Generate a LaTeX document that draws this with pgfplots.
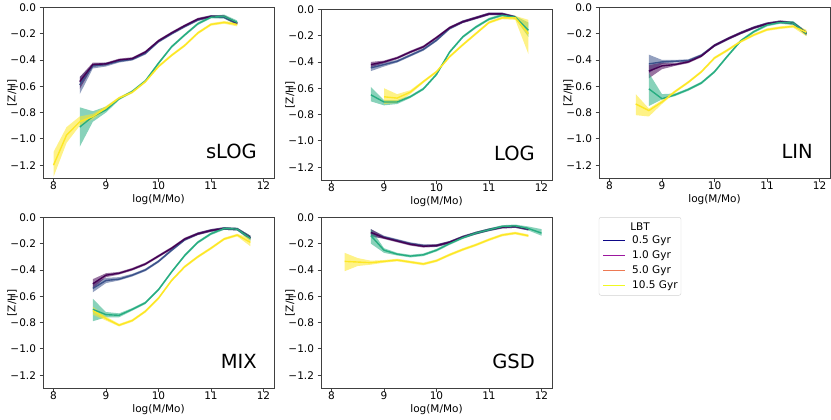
\documentclass[border=0pt]{standalone}
\usepackage{fontspec}
\setmainfont{DejaVu Sans}
\usepackage{pgfplots}
\pgfplotsset{compat=1.18}
\usepackage{pgfplotstable}
\usepgfplotslibrary{fillbetween}

\definecolor{cP}{HTML}{440154}
\definecolor{cB}{HTML}{3B528B}
\definecolor{cG}{HTML}{27AD81}
\definecolor{cY}{HTML}{FDE725}
\definecolor{lB}{HTML}{0D0887}
\definecolor{lP}{HTML}{9C179E}
\definecolor{lO}{HTML}{ED7953}
\definecolor{lY}{HTML}{F0F921}

% ---------------- sLOG ----------------
\pgfplotstableread{
x y lo hi
8.5 -0.59 -0.66 -0.53
8.75 -0.445 -0.465 -0.43
9 -0.435 -0.45 -0.42
9.25 -0.41 -0.42 -0.40
9.5 -0.395 -0.405 -0.385
9.75 -0.35 -0.36 -0.34
10 -0.26 -0.27 -0.25
10.25 -0.20 -0.21 -0.19
10.5 -0.145 -0.155 -0.135
10.75 -0.095 -0.105 -0.085
11 -0.07 -0.08 -0.06
11.25 -0.075 -0.085 -0.065
11.5 -0.125 -0.135 -0.115
}\tsB
\pgfplotstableread{
x y lo hi
8.5 -0.565 -0.62 -0.53
8.75 -0.435 -0.45 -0.42
9 -0.43 -0.44 -0.42
9.25 -0.40 -0.41 -0.39
9.5 -0.39 -0.40 -0.38
9.75 -0.34 -0.35 -0.33
10 -0.255 -0.265 -0.245
10.25 -0.195 -0.205 -0.185
10.5 -0.14 -0.15 -0.13
10.75 -0.09 -0.10 -0.08
11 -0.07 -0.08 -0.06
11.25 -0.07 -0.08 -0.06
11.5 -0.12 -0.13 -0.11
}\tsP
\pgfplotstableread{
x y lo hi
8.5 -0.91 -1.06 -0.76
8.75 -0.83 -0.87 -0.79
9 -0.78 -0.80 -0.755
9.25 -0.695 -0.705 -0.685
9.5 -0.64 -0.65 -0.63
9.75 -0.56 -0.57 -0.55
10 -0.425 -0.435 -0.415
10.25 -0.30 -0.31 -0.29
10.5 -0.21 -0.22 -0.20
10.75 -0.125 -0.135 -0.115
11 -0.075 -0.085 -0.065
11.25 -0.07 -0.085 -0.055
11.5 -0.115 -0.135 -0.10
}\tsG
\pgfplotstableread{
x y lo hi
8 -1.20 -1.29 -1.10
8.25 -0.97 -1.03 -0.91
8.5 -0.87 -0.90 -0.83
8.75 -0.83 -0.85 -0.81
9 -0.765 -0.78 -0.75
9.25 -0.69 -0.70 -0.68
9.5 -0.645 -0.655 -0.635
9.75 -0.565 -0.575 -0.555
10 -0.45 -0.46 -0.44
10.25 -0.365 -0.375 -0.355
10.5 -0.29 -0.30 -0.28
10.75 -0.195 -0.205 -0.185
11 -0.13 -0.14 -0.12
11.25 -0.115 -0.125 -0.105
11.5 -0.13 -0.145 -0.115
}\tsY

% ---------------- LOG ----------------
\pgfplotstableread{
x y lo hi
8.75 -0.445 -0.47 -0.42
9 -0.42 -0.435 -0.405
9.25 -0.395 -0.405 -0.385
9.5 -0.35 -0.36 -0.34
9.75 -0.305 -0.315 -0.295
10 -0.235 -0.245 -0.225
10.25 -0.145 -0.155 -0.135
10.5 -0.095 -0.105 -0.085
10.75 -0.065 -0.075 -0.055
11 -0.035 -0.045 -0.025
11.25 -0.035 -0.045 -0.025
11.5 -0.06 -0.07 -0.05
}\toB
\pgfplotstableread{
x y lo hi
8.75 -0.42 -0.44 -0.40
9 -0.40 -0.41 -0.39
9.25 -0.37 -0.38 -0.36
9.5 -0.325 -0.335 -0.315
9.75 -0.285 -0.295 -0.275
10 -0.215 -0.225 -0.205
10.25 -0.14 -0.15 -0.13
10.5 -0.095 -0.105 -0.085
10.75 -0.065 -0.075 -0.055
11 -0.035 -0.045 -0.025
11.25 -0.035 -0.045 -0.025
11.5 -0.06 -0.07 -0.05
}\toP
\pgfplotstableread{
x y lo hi
8.75 -0.65 -0.70 -0.59
9 -0.705 -0.73 -0.69
9.25 -0.705 -0.72 -0.69
9.5 -0.665 -0.675 -0.655
9.75 -0.605 -0.615 -0.595
10 -0.495 -0.505 -0.485
10.25 -0.325 -0.335 -0.315
10.5 -0.21 -0.22 -0.20
10.75 -0.135 -0.145 -0.125
11 -0.075 -0.085 -0.065
11.25 -0.045 -0.055 -0.035
11.5 -0.06 -0.07 -0.05
11.75 -0.16 -0.21 -0.10
}\toG
\pgfplotstableread{
x y lo hi
9 -0.665 -0.72 -0.60
9.25 -0.675 -0.71 -0.645
9.5 -0.63 -0.645 -0.615
9.75 -0.55 -0.56 -0.54
10 -0.475 -0.485 -0.465
10.25 -0.36 -0.37 -0.35
10.5 -0.27 -0.28 -0.26
10.75 -0.185 -0.195 -0.175
11 -0.10 -0.11 -0.09
11.25 -0.065 -0.075 -0.055
11.5 -0.065 -0.08 -0.05
11.75 -0.185 -0.34 -0.08
}\toY

% ---------------- LIN ----------------
\pgfplotstableread{
x y lo hi
8.75 -0.43 -0.50 -0.36
9 -0.415 -0.43 -0.40
9.25 -0.41 -0.42 -0.40
9.5 -0.405 -0.415 -0.395
9.75 -0.365 -0.375 -0.355
10 -0.29 -0.30 -0.28
10.25 -0.24 -0.25 -0.23
10.5 -0.195 -0.205 -0.185
10.75 -0.155 -0.165 -0.145
11 -0.125 -0.135 -0.115
11.25 -0.11 -0.12 -0.10
11.5 -0.12 -0.13 -0.11
11.75 -0.195 -0.21 -0.18
}\tnB
\pgfplotstableread{
x y lo hi
8.75 -0.485 -0.54 -0.44
9 -0.445 -0.47 -0.42
9.25 -0.435 -0.445 -0.425
9.5 -0.415 -0.425 -0.405
9.75 -0.37 -0.38 -0.36
10 -0.29 -0.30 -0.28
10.25 -0.24 -0.25 -0.23
10.5 -0.195 -0.205 -0.185
10.75 -0.155 -0.165 -0.145
11 -0.125 -0.135 -0.115
11.25 -0.11 -0.12 -0.10
11.5 -0.12 -0.13 -0.11
11.75 -0.20 -0.215 -0.185
}\tnP
\pgfplotstableread{
x y lo hi
8.75 -0.62 -0.75 -0.50
9 -0.695 -0.70 -0.66
9.25 -0.665 -0.675 -0.655
9.5 -0.625 -0.635 -0.615
9.75 -0.575 -0.585 -0.565
10 -0.49 -0.50 -0.48
10.25 -0.37 -0.38 -0.36
10.5 -0.255 -0.265 -0.245
10.75 -0.185 -0.195 -0.175
11 -0.135 -0.145 -0.125
11.25 -0.115 -0.125 -0.105
11.5 -0.12 -0.135 -0.105
11.75 -0.20 -0.215 -0.185
}\tnG
\pgfplotstableread{
x y lo hi
8.5 -0.735 -0.82 -0.66
8.75 -0.785 -0.83 -0.77
9 -0.72 -0.735 -0.705
9.25 -0.64 -0.65 -0.63
9.5 -0.57 -0.58 -0.56
9.75 -0.49 -0.50 -0.48
10 -0.385 -0.395 -0.375
10.25 -0.325 -0.335 -0.315
10.5 -0.26 -0.27 -0.25
10.75 -0.21 -0.22 -0.20
11 -0.17 -0.18 -0.16
11.25 -0.155 -0.165 -0.145
11.5 -0.145 -0.155 -0.135
11.75 -0.19 -0.22 -0.17
}\tnY

% ---------------- MIX ----------------
\pgfplotstableread{
x y lo hi
8.75 -0.54 -0.57 -0.50
9 -0.48 -0.50 -0.46
9.25 -0.47 -0.48 -0.455
9.5 -0.44 -0.45 -0.43
9.75 -0.40 -0.41 -0.39
10 -0.335 -0.345 -0.325
10.25 -0.25 -0.26 -0.24
10.5 -0.17 -0.18 -0.16
10.75 -0.125 -0.135 -0.115
11 -0.10 -0.11 -0.09
11.25 -0.085 -0.095 -0.075
11.5 -0.09 -0.10 -0.08
11.75 -0.155 -0.17 -0.14
}\tmB
\pgfplotstableread{
x y lo hi
8.75 -0.505 -0.54 -0.47
9 -0.44 -0.455 -0.425
9.25 -0.425 -0.435 -0.415
9.5 -0.395 -0.405 -0.385
9.75 -0.355 -0.365 -0.345
10 -0.295 -0.305 -0.285
10.25 -0.235 -0.245 -0.225
10.5 -0.165 -0.175 -0.155
10.75 -0.125 -0.135 -0.115
11 -0.10 -0.11 -0.09
11.25 -0.085 -0.095 -0.075
11.5 -0.09 -0.10 -0.08
11.75 -0.155 -0.17 -0.14
}\tmP
\pgfplotstableread{
x y lo hi
8.75 -0.70 -0.79 -0.62
9 -0.74 -0.76 -0.72
9.25 -0.745 -0.76 -0.73
9.5 -0.70 -0.71 -0.69
9.75 -0.65 -0.66 -0.64
10 -0.55 -0.56 -0.54
10.25 -0.415 -0.425 -0.405
10.5 -0.29 -0.30 -0.28
10.75 -0.19 -0.20 -0.18
11 -0.125 -0.135 -0.115
11.25 -0.085 -0.095 -0.075
11.5 -0.09 -0.10 -0.08
11.75 -0.16 -0.18 -0.14
}\tmG
\pgfplotstableread{
x y lo hi
8.75 -0.71 -0.74 -0.68
9 -0.77 -0.785 -0.755
9.25 -0.82 -0.83 -0.81
9.5 -0.785 -0.795 -0.775
9.75 -0.715 -0.725 -0.705
10 -0.615 -0.625 -0.605
10.25 -0.48 -0.49 -0.47
10.5 -0.375 -0.385 -0.365
10.75 -0.30 -0.31 -0.29
11 -0.235 -0.245 -0.225
11.25 -0.165 -0.175 -0.155
11.5 -0.135 -0.145 -0.125
11.75 -0.19 -0.22 -0.16
}\tmY

% ---------------- GSD ----------------
\pgfplotstableread{
x y lo hi
8.75 -0.12 -0.15 -0.09
9 -0.15 -0.16 -0.14
9.25 -0.175 -0.185 -0.165
9.5 -0.20 -0.21 -0.19
9.75 -0.215 -0.225 -0.205
10 -0.215 -0.225 -0.205
10.25 -0.19 -0.20 -0.18
10.5 -0.15 -0.16 -0.14
10.75 -0.12 -0.13 -0.11
11 -0.095 -0.105 -0.085
11.25 -0.075 -0.085 -0.065
11.5 -0.07 -0.08 -0.06
11.75 -0.09 -0.10 -0.08
}\tgB
\pgfplotstableread{
x y lo hi
8.75 -0.115 -0.14 -0.09
9 -0.155 -0.165 -0.145
9.25 -0.18 -0.19 -0.17
9.5 -0.205 -0.215 -0.195
9.75 -0.22 -0.23 -0.21
10 -0.215 -0.225 -0.205
10.25 -0.19 -0.20 -0.18
10.5 -0.15 -0.16 -0.14
10.75 -0.12 -0.13 -0.11
11 -0.095 -0.105 -0.085
11.25 -0.075 -0.085 -0.065
11.5 -0.07 -0.08 -0.06
11.75 -0.09 -0.10 -0.08
}\tgP
\pgfplotstableread{
x y lo hi
8.75 -0.14 -0.20 -0.09
9 -0.25 -0.27 -0.235
9.25 -0.28 -0.29 -0.27
9.5 -0.295 -0.305 -0.285
9.75 -0.285 -0.295 -0.275
10 -0.25 -0.26 -0.24
10.25 -0.20 -0.21 -0.19
10.5 -0.155 -0.165 -0.145
10.75 -0.12 -0.13 -0.11
11 -0.095 -0.105 -0.085
11.25 -0.07 -0.08 -0.06
11.5 -0.065 -0.075 -0.055
11.75 -0.085 -0.10 -0.07
12 -0.12 -0.14 -0.09
}\tgG
\pgfplotstableread{
x y lo hi
8.25 -0.335 -0.41 -0.27
8.5 -0.34 -0.37 -0.31
8.75 -0.345 -0.36 -0.33
9 -0.335 -0.345 -0.325
9.25 -0.325 -0.335 -0.315
9.5 -0.34 -0.35 -0.33
9.75 -0.355 -0.365 -0.345
10 -0.33 -0.34 -0.32
10.25 -0.285 -0.295 -0.275
10.5 -0.245 -0.255 -0.235
10.75 -0.21 -0.22 -0.20
11 -0.17 -0.18 -0.16
11.25 -0.135 -0.145 -0.125
11.5 -0.12 -0.13 -0.11
11.75 -0.14 -0.15 -0.13
}\tgY

\newcommand{\bandseries}[3]{%
  \addplot[draw=none, forget plot, name path=#3lo] table[x=x,y=lo]{#1};
  \addplot[draw=none, forget plot, name path=#3hi] table[x=x,y=hi]{#1};
  \addplot[fill=#2, fill opacity=0.55, draw=none, forget plot] fill between[of=#3lo and #3hi];
  \addplot[#2, line width=1.4pt, forget plot] table[x=x,y=y]{#1};
}

\pgfplotsset{panel/.style={
  scale only axis, width=231pt, height=171pt,
  xmin=7.8, xmax=12.2, ymin=-1.3, ymax=0,
  xtick={8,9,10,11,12}, xticklabels={8,9,10,11,12},
  ytick={-1.2,-1.0,-0.8,-0.6,-0.4,-0.2,0},
  yticklabels={{−1.2},{−1.0},{−0.8},{−0.6},{−0.4},{−0.2},{0.0}},
  tick align=outside, xtick pos=bottom, ytick pos=left,
  major tick length=3.5pt,
  axis line style={black!75, line width=0.8pt},
  tick style={black!75, line width=0.8pt},
  tick label style={font=\fontsize{10.5}{12}\selectfont},
  xticklabel style={inner sep=1pt, yshift=1pt},
  label style={font=\fontsize{10.5}{12}\selectfont, inner sep=1pt},
  xlabel={log(M/Mo)}, ylabel={[Z/H]},
  xlabel style={at={(axis description cs:0.5,-0.125)}, anchor=center},
  ylabel style={at={(axis description cs:-0.134,0.5)}, anchor=center},
  anchor=north west,
}}
\newcommand{\panellabel}[1]{\node[anchor=base east, font=\fontsize{19.5}{22}\selectfont, inner sep=0pt] at (axis cs:11.876,-1.15) {#1};}

\begin{document}
\begin{tikzpicture}

\begin{axis}[panel, at={(43pt,-5pt)}]
\bandseries{\tsB}{cB}{aa}\bandseries{\tsP}{cP}{ab}\bandseries{\tsG}{cG}{ac}\bandseries{\tsY}{cY}{ad}
\panellabel{sLOG}
\end{axis}

\begin{axis}[panel, at={(321pt,-7pt)}]
\bandseries{\toB}{cB}{ba}\bandseries{\toP}{cP}{bb}\bandseries{\toG}{cG}{bc}\bandseries{\toY}{cY}{bd}
\panellabel{LOG}
\end{axis}

\begin{axis}[panel, at={(599pt,-5pt)}]
\bandseries{\tnB}{cB}{ca}\bandseries{\tnP}{cP}{cb}\bandseries{\tnG}{cG}{cc}\bandseries{\tnY}{cY}{cd}
\panellabel{LIN}
\end{axis}

\begin{axis}[panel, at={(43pt,-215pt)}]
\bandseries{\tmB}{cB}{da}\bandseries{\tmP}{cP}{db}\bandseries{\tmG}{cG}{dc}\bandseries{\tmY}{cY}{dd}
\panellabel{MIX}
\end{axis}

\begin{axis}[panel, at={(321pt,-215pt)}]
\bandseries{\tgB}{cB}{ea}\bandseries{\tgP}{cP}{eb}\bandseries{\tgG}{cG}{ec}\bandseries{\tgY}{cY}{ed}
\panellabel{GSD}
\end{axis}

% legend
\draw[black!18, rounded corners=2pt, fill=white] (599pt,-215pt) rectangle (681pt,-293pt);
\node[font=\fontsize{10.5}{12}\selectfont] at (640pt,-224pt) {LBT};
\foreach \cc/\tt/\yy in {lB/0.5 Gyr/238, lP/1.0 Gyr/253, lO/5.0 Gyr/268, lY/10.5 Gyr/283}{
  \draw[\cc, line width=1.2pt] (603pt,-\yy pt) -- (625pt,-\yy pt);
  \node[anchor=west, font=\fontsize{10.5}{12}\selectfont, inner sep=0pt] at (632pt,-\yy pt) {\tt};
}
\path (0pt,0pt) rectangle (831pt,-417pt);
\end{tikzpicture}
\end{document}
